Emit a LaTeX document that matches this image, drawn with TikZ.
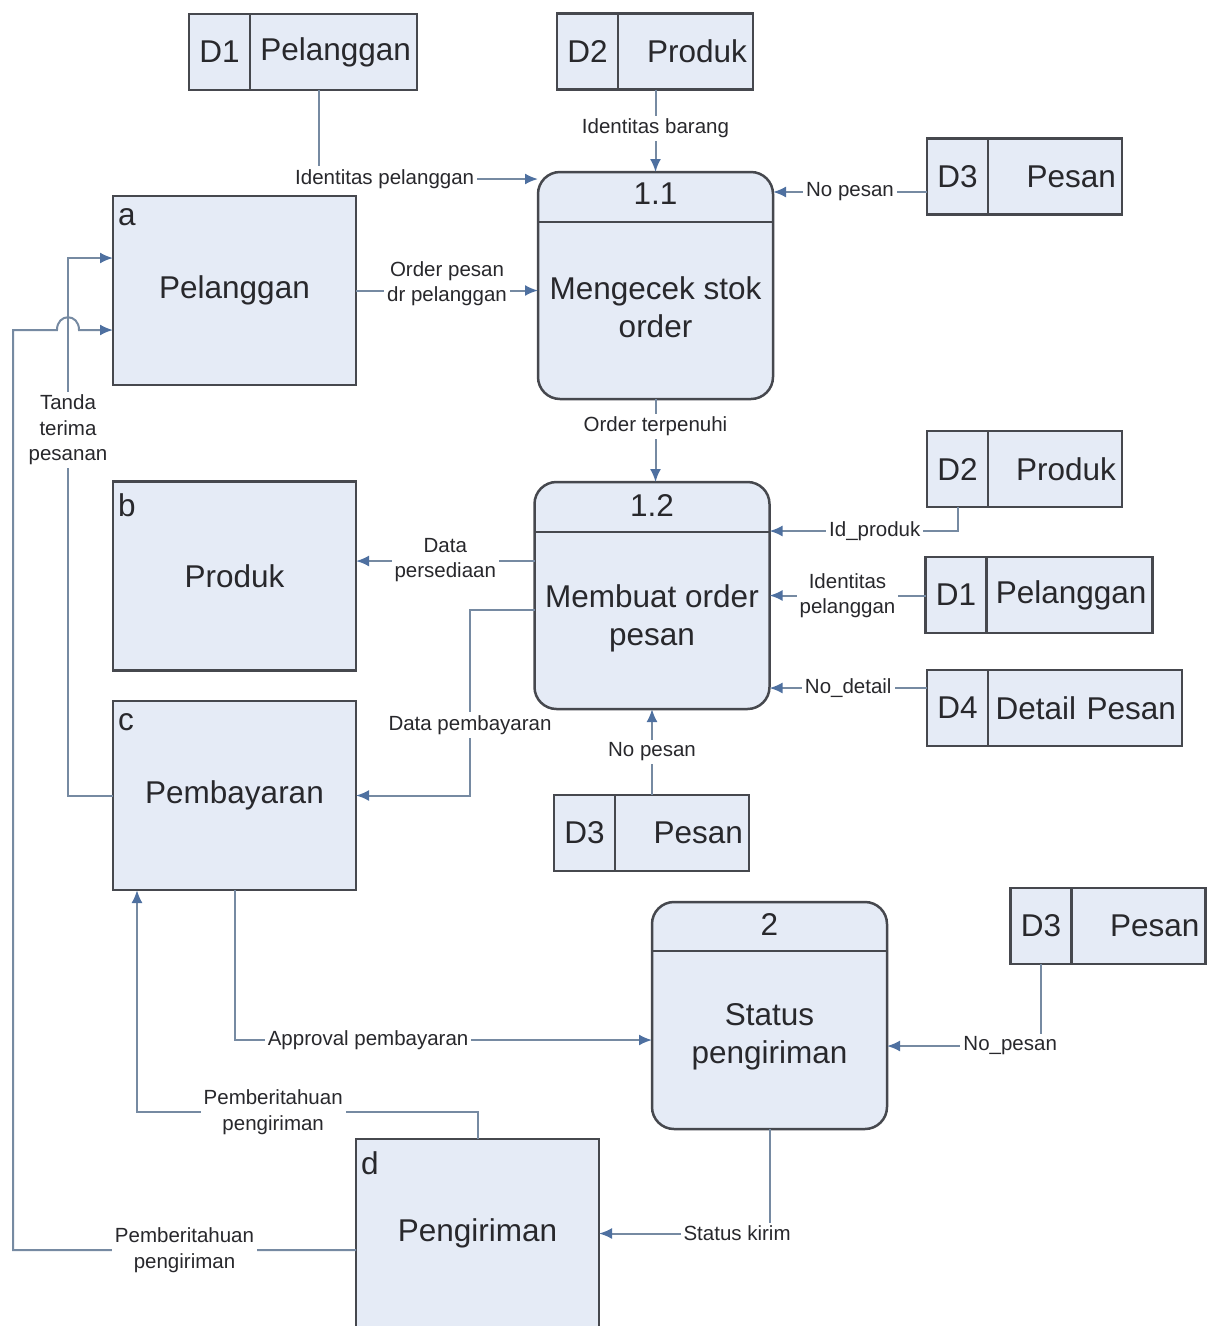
\documentclass[tikz,border=0pt]{standalone}
\usepackage{fontspec}
\setmainfont{Liberation Sans}
\usetikzlibrary{arrows.meta,positioning}
\definecolor{boxfill}{RGB}{229,235,246}
\definecolor{boxline}{RGB}{70,72,78}
\definecolor{flowline}{RGB}{118,138,162}
\definecolor{flowtip}{RGB}{78,112,160}
\definecolor{txt}{RGB}{40,40,44}
\newcommand{\bigtxt}{\fontsize{31.5}{38}\selectfont}
\newcommand{\smalltxt}{\fontsize{20.5}{25.5}\selectfont}

\begin{document}
\begin{tikzpicture}[x=1pt, y=-1pt,
    entity/.style = {draw=boxline, fill=boxfill, line width=2.5pt, outer sep=0pt, minimum width=243pt, minimum height=189pt, inner sep=0pt, font=\bigtxt, text=txt},
    process/.style = {draw=boxline, fill=boxfill, line width=2.5pt, outer sep=0pt, rounded corners=22pt, minimum width=235pt, minimum height=227pt, inner sep=0pt},
    storeid/.style = {draw=boxline, fill=boxfill, line width=2.5pt, outer sep=0pt, minimum width=61pt, minimum height=76pt, inner sep=0pt, font=\bigtxt, text=txt},
    storename/.style = {draw=boxline, fill=boxfill, line width=2.5pt, outer sep=0pt, minimum height=76pt, inner xsep=6pt, inner ysep=0pt, align=right, font=\bigtxt, text=txt},
    ptext/.style = {font=\bigtxt, text=txt, align=center},
    corner/.style = {font=\bigtxt, text=txt, anchor=north west, inner sep=3pt, xshift=2pt, yshift=-9pt},
    flow/.style = {draw=flowline, line width=2pt, -{Latex[length=13pt,width=11pt,color=flowtip]}},
    lbl/.style = {fill=white, inner sep=3pt, font=\smalltxt, text=txt, align=center}]
    \useasboundingbox (0,0) rectangle (1210,1326);

    % entitas luar
    \node[entity, label={[corner]north west:a}] (pel) at (234.5, 290.5) {Pelanggan};
    \node[entity, label={[corner]north west:b}] (prd) at (234.5, 576) {Produk};
    \node[entity, label={[corner]north west:c}] (pby) at (234.5, 795.5) {Pembayaran};
    \node[entity, label={[corner]north west:d}] (kirim) at (477.5, 1233.5) {Pengiriman};

    % proses
    \node[process] (p11) at (655.5, 285.5) {};
    \draw[boxline, line width=2.5pt] ([yshift=-50pt]p11.north west) -- ([yshift=-50pt]p11.north east);
    \node[ptext] (p11n) at ([yshift=-22pt]p11.north) {1.1};
    \node[ptext] (p11t) at ([yshift=-22pt]p11.center) {Mengecek stok\\order};

    \node[process] (p12) at (652, 595.5) {};
    \draw[boxline, line width=2.5pt] ([yshift=-50pt]p12.north west) -- ([yshift=-50pt]p12.north east);
    \node[ptext] (p12n) at ([yshift=-23pt]p12.north) {1.2};
    \node[ptext] (p12t) at ([yshift=-22.5pt]p12.center) {Membuat order\\pesan};

    \node[process] (p2) at (769.5, 1015.5) {};
    \draw[boxline, line width=2.5pt] ([yshift=-49pt]p2.north west) -- ([yshift=-49pt]p2.north east);
    \node[ptext] (p2n) at ([yshift=-22pt]p2.north) {2};
    \node[ptext] (p2t) at ([yshift=-21.5pt]p2.center) {Status\\pengiriman};

    % data store
    \node[storeid] (s1) at (219.5, 52) {D1};
    \node[storename, right=0pt of s1, text width=155pt] (s1n) {Pelanggan};
    \node[storeid] (s2) at (587.5, 51.5) {D2};
    \node[storename, right=0pt of s2, text width=123pt] (s2n) {Produk};
    \node[storeid] (s3) at (957.5, 176.5) {D3};
    \node[storename, right=0pt of s3, text width=122pt] (s3n) {Pesan};
    \node[storeid] (s4) at (957.5, 469) {D2};
    \node[storename, right=0pt of s4, text width=122pt] (s4n) {Produk};
    \node[storeid] (s5) at (956, 595) {D1};
    \node[storename, right=0pt of s5, text width=154pt] (s5n) {Pelanggan};
    \node[storeid] (s6) at (957.5, 708) {D4};
    \node[storename, right=0pt of s6, text width=182pt] (s6n) {Detail Pesan};
    \node[storeid] (s7) at (584.5, 833) {D3};
    \node[storename, right=0pt of s7, text width=122pt] (s7n) {Pesan};
    \node[storeid] (s8) at (1041, 926) {D3};
    \node[storename, right=0pt of s8, text width=122pt] (s8n) {Pesan};

    % aliran data
    \draw[flow] ([xshift=-14.5pt]s1n.south) |- ([yshift=-7pt]p11.north west) node[lbl, pos=0.65] {Identitas pelanggan};
    \draw[flow] (s2n.south west -| p11.north) -- (p11.north) node[lbl, pos=0.47] {Identitas barang};
    \draw[flow] ([yshift=-15.5pt]s3.west) -- ([yshift=-20pt]p11.north east) node[lbl, midway] {No pesan};
    \draw[flow] (pel.east) -- (pel.east -| p11.west) node[lbl, midway, yshift=7pt] {Order pesan\\dr pelanggan};
    \draw[flow] (p11.south) -- (p11.south |- p12.north) node[lbl, pos=0.33] {Order terpenuhi};
    \draw[flow] (s4.south) |- ([yshift=-49pt]p12.north east) node[lbl, pos=0.72] {Id\_produk};
    \draw[flow] (p12.east -| s5.west) -- (p12.east) node[lbl, midway] {Identitas\\pelanggan};
    \draw[flow] ([yshift=20pt]s6.west) -- ([yshift=21pt]p12.south east) node[lbl, midway] {No\_detail};
    \draw[flow] (s7n.north -| p12.south) -- (p12.south) node[lbl, midway] {No pesan};
    \draw[flow] ([yshift=-79pt]p12.north west) -- ([yshift=15pt]prd.east) node[lbl, midway, yshift=1pt] {Data\\persediaan};
    \draw[flow] ([yshift=-128pt]p12.north west) -| ([xshift=114pt]pby.east) node[lbl, pos=0.81] {Data pembayaran} -- (pby.east);
    \draw[flow] (pby.west) -| ([xshift=-45pt, yshift=-62pt]pel.north west) node[lbl, pos=0.84] {Tanda\\terima\\pesanan} -- ([yshift=-62pt]pel.north west);
    \draw[flow] ([yshift=-111pt]kirim.north west) -| ([xshift=-100pt, yshift=-134pt]pel.north west) node[lbl, pos=0.25] {Pemberitahuan\\pengiriman}
        -- ([xshift=-56pt, yshift=-134pt]pel.north west) .. controls +(0,-17) and +(0,-17) .. ([xshift=-34pt, yshift=-134pt]pel.north west)
        -- ([yshift=-134pt]pel.north west);
    \draw[flow] (kirim.north) -- ++(0,-27) -| ([xshift=24pt]pby.south west) node[lbl, pos=0.3] {Pemberitahuan\\pengiriman};
    \draw[flow] (pby.south) |- ([yshift=-24.5pt]p2.west) node[lbl, pos=0.66] {Approval pembayaran};
    \draw[flow] (s8.south) |- ([yshift=-30.5pt]p2.east) node[lbl, pos=0.6] {No\_pesan};
    \draw[flow] (p2.south) |- (kirim.east) node[lbl, pos=0.595] {Status kirim};
\end{tikzpicture}
\end{document}
